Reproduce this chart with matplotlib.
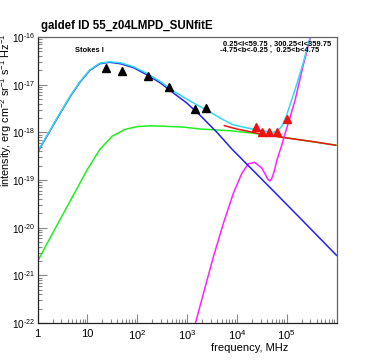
import numpy as np
import matplotlib
matplotlib.use("Agg")
import matplotlib.pyplot as plt
from matplotlib.ticker import FixedLocator, LogLocator, NullFormatter

plt.rcParams["font.family"] = ["Liberation Sans", "DejaVu Sans"]
plt.rcParams["mathtext.fontset"] = "custom"
plt.rcParams["mathtext.rm"] = "Liberation Sans"
plt.rcParams["mathtext.it"] = "Liberation Sans:italic"
plt.rcParams["mathtext.bf"] = "Liberation Sans:bold"

# log10(frequency / MHz) and log10(intensity)
total_logf = [0.0, 0.2, 0.45, 0.65, 0.85, 1.05, 1.25, 1.45, 1.66, 1.92, 2.19, 2.46,
              2.72, 2.99, 3.26, 3.46, 3.7, 3.92, 4.26, 4.6, 4.72, 4.8, 4.9, 5.0,
              5.1, 5.2, 5.33, 5.47, 5.52]
total_logI = [-18.41, -18.05, -17.6, -17.25, -16.94, -16.69, -16.55, -16.52, -16.54,
              -16.62, -16.76, -16.93, -17.13, -17.3, -17.46, -17.57, -17.72, -17.84,
              -17.92, -17.98, -18.0, -17.98, -17.88, -17.64, -17.32, -17.0, -16.55,
              -16.0, -15.8]

sync_logf = [0.0, 0.2, 0.45, 0.65, 0.85, 1.05, 1.25, 1.45, 1.66, 1.92, 2.19, 2.46,
             2.72, 2.99, 3.26, 3.6, 3.9, 4.26, 4.8, 5.27, 6.0]
sync_logI = [-18.42, -18.06, -17.61, -17.26, -16.95, -16.70, -16.56, -16.53, -16.56,
             -16.64, -16.79, -16.96, -17.17, -17.38, -17.64, -18.0, -18.35, -18.73,
             -19.3, -19.8, -20.58]

green_logf = [0.0, 0.25, 0.5, 0.75, 1.0, 1.25, 1.5, 1.75, 2.0, 2.25, 2.5, 2.93,
              3.26, 3.6, 3.9, 4.26, 4.93, 5.47, 6.0]
green_logI = [-20.71, -20.22, -19.74, -19.26, -18.78, -18.36, -18.08, -17.94, -17.88,
              -17.865, -17.87, -17.89, -17.93, -17.95, -17.97, -18.01, -18.1, -18.19,
              -18.27]

red_logf = [3.75, 4.0, 4.46, 4.93, 5.5, 5.98]
red_logI = [-17.86, -17.93, -18.03, -18.11, -18.19, -18.27]

dust_logf = [3.1, 3.17, 3.33, 3.53, 3.73, 3.93, 4.10, 4.23, 4.36, 4.50, 4.57, 4.62,
             4.66, 4.70, 4.75, 4.80, 4.90, 4.97, 5.07, 5.17, 5.33, 5.48, 5.52]
dust_logI = [-22.25, -22.0, -21.38, -20.61, -19.91, -19.28, -18.86, -18.66, -18.63,
             -18.75, -18.88, -18.98, -19.02, -18.97, -18.82, -18.6, -18.27, -18.02,
             -17.68, -17.32, -16.6, -16.0, -15.8]

data_logf = [1.374, 1.69, 2.21, 2.64, 3.17, 3.39]
data_logI = [-16.66, -16.71, -16.81, -17.05, -17.50, -17.49]

hf_logf = [4.38, 4.51, 4.64, 4.81, 5.0]
hf_logI = [-17.88, -18.00, -17.99, -18.00, -17.71]

xticks = [1, 10, 1e2, 1e3, 1e4, 1e5]
xtick_labels = ["1", "10", "$10^{2}$", "$10^{3}$", "$10^{4}$", "$10^{5}$"]
yexps = [-22, -21, -20, -19, -18, -17, -16]


def p(v):
    return 10.0 ** np.asarray(v)


fig = plt.figure(figsize=(3.74, 3.6), dpi=100)
ax = fig.add_axes([37.5 / 374, 1 - 323 / 360, 299 / 374, 286 / 360])
ax.set_xscale("log")
ax.set_yscale("log")
ax.set_xlim(1, 1e6)
ax.set_ylim(1e-22, 1e-16)

lw = 1.1
ax.plot(p(green_logf), p(green_logI), color="#22ee22", lw=lw)
ax.plot(p(red_logf), p(red_logI), color="#ee1111", lw=lw)
ax.plot(p(dust_logf), p(dust_logI), color="#ff22ff", lw=lw)
ax.plot(p(sync_logf), p(sync_logI), color="#2222ee", lw=lw)
ax.plot(p(total_logf), p(total_logI), color="#33d8f2", lw=lw)
ax.plot(p(data_logf), p(data_logI), "^", color="black", ms=5.5, ls="none")
ax.plot(p(hf_logf), p(hf_logI), "^", color="#ee1111", ms=5.5, ls="none")

# ROOT-like frame: ticks inside, only on left/bottom
ax.tick_params(which="both", direction="in", top=False, right=False,
               color="#888888")
ax.tick_params(which="major", length=6.5, width=0.8)
ax.tick_params(which="minor", length=3.2, width=0.8)
ax.tick_params(axis="y", pad=1.5, labelsize=7.2)
ax.tick_params(axis="x", pad=4, labelsize=8)
for s in ["left", "bottom"]:
    ax.spines[s].set_color("#222222")
for s in ["top", "right"]:
    ax.spines[s].set_color("#666666")
for s in ax.spines.values():
    s.set_linewidth(0.9)

ax.xaxis.set_major_locator(FixedLocator(xticks))
ax.set_xticklabels(xtick_labels)
ax.xaxis.set_minor_locator(LogLocator(base=10, subs=np.arange(2, 10), numticks=20))
ax.xaxis.set_minor_formatter(NullFormatter())

# short hyphen in the exponent, as the ROOT labels have it
ax.yaxis.set_major_locator(FixedLocator(p(yexps)))
ax.set_yticklabels(["$10^{\u2010%d}$" % abs(e) for e in yexps])
ax.yaxis.set_minor_locator(LogLocator(base=10, subs=np.arange(2, 10), numticks=20))
ax.yaxis.set_minor_formatter(NullFormatter())

fig.text(41 / 374, 1 - 29 / 360, "galdef ID 55_z04LMPD_SUNfitE",
         fontsize=8.3, fontweight="bold", va="baseline", ha="left")
fig.text(75 / 374, 1 - 51 / 360, "Stokes I", fontsize=5.4, fontweight="bold",
         va="center", ha="left")
fig.text(223 / 374, 1 - 44 / 360, "0.25<l<59.75 , 300.25<l<359.75",
         fontsize=5.4, fontweight="bold", va="center", ha="left")
fig.text(220 / 374, 1 - 50.7 / 360, "-4.75<b<-0.25 ,  0.25<b<4.75",
         fontsize=5.4, fontweight="bold", va="center", ha="left")

fig.text(6.5 / 374, 1 - 33 / 360,
         "intensity, erg cm$^{-2}$ sr$^{-1}$ s$^{-1}$ Hz$^{-1}$",
         rotation=90, fontsize=7.8, ha="center", va="top")
fig.text(288 / 374, 1 - 348 / 360, "frequency, MHz", fontsize=8,
         ha="right", va="center")

fig.savefig("out.png", dpi=100)
